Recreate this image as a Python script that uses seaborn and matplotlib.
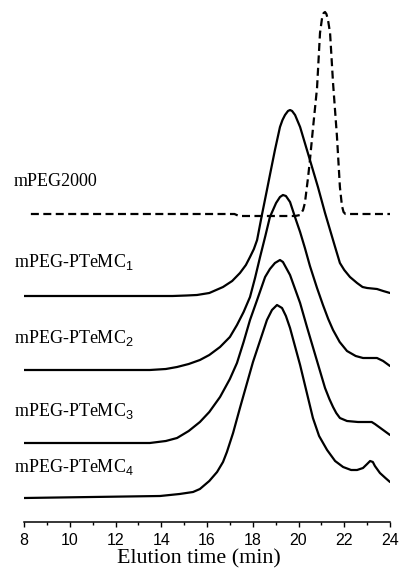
import numpy as np
import pandas as pd
import matplotlib
matplotlib.use("Agg")
import matplotlib.pyplot as plt
import seaborn as sns

# ---------------- data ----------------
series_names = ["mPEG2000", "mPEG-PTeMC1", "mPEG-PTeMC2", "mPEG-PTeMC3", "mPEG-PTeMC4"]
series_labels = ["mPEG2000", "mPEG-PTeMC$_\\mathsf{1}$", "mPEG-PTeMC$_\\mathsf{2}$",
                 "mPEG-PTeMC$_\\mathsf{3}$", "mPEG-PTeMC$_\\mathsf{4}$"]

t0 = [8.3, 17.2, 17.4, 19.85, 20.07, 20.20, 20.28, 20.42, 20.50, 20.63, 20.81, 20.94,
      21.03, 21.10, 21.16, 21.22, 21.29, 21.38, 21.51, 21.68, 21.81, 21.90, 21.97, 22.05, 24.0]
h0 = [0, 0, -2, -2, -1, 4, 11, 37, 54, 85, 126, 181, 196, 201, 202, 200, 194, 181, 131,
      78, 27, 8, 2, 0, 0]

t1 = [8.0, 14.5, 15.1, 15.56, 16.1, 16.70, 17.1, 17.44, 17.7, 17.88, 18.05, 18.19, 18.40,
      18.62, 18.75, 18.97, 19.19, 19.30, 19.41, 19.54, 19.63, 19.72, 19.85, 20.07, 20.50,
      20.85, 21.16, 21.38, 21.60, 21.81, 22.0, 22.25, 22.56, 22.8, 23.0, 23.43, 23.7, 24.0]
h1 = [0, 0, 0.5, 1, 3, 9, 15, 23, 31, 39, 47, 56, 81, 106, 121, 146, 169, 176, 181, 185,
      186, 185, 181, 169, 136, 109, 83, 66, 49, 33, 26, 19, 13, 9, 8, 7, 5, 3]

t2 = [8.0, 13.5, 14.2, 14.69, 15.2, 15.69, 16.1, 16.57, 17.0, 17.31, 17.6, 17.88, 18.1,
      18.32, 18.55, 18.75, 19.02, 19.19, 19.32, 19.45, 19.63, 19.89, 20.07, 20.28, 20.50,
      20.81, 21.07, 21.3, 21.51, 21.8, 22.12, 22.5, 22.82, 23.1, 23.43, 23.7, 24.0]
h2 = [0, 0, 1, 3, 6, 10, 15, 23, 33, 45, 58, 73, 92, 113, 134, 153, 167, 173, 175, 174,
      168, 150, 138, 122, 104, 82, 65, 51, 40, 28, 19, 14, 12, 12, 12, 9, 4]

t3 = [8.0, 13.5, 14.2, 14.69, 15.2, 15.69, 16.1, 16.57, 17.0, 17.31, 17.6, 17.88, 18.19,
      18.54, 18.75, 18.97, 19.19, 19.32, 19.63, 20.07, 20.37, 20.81, 21.16, 21.35, 21.51,
      21.65, 21.81, 22.12, 22.6, 23.0, 23.2, 23.34, 23.7, 24.0]
h3 = [0, 0, 2, 5, 12, 21, 31, 46, 64, 80, 101, 123, 143, 166, 174, 180, 183, 181, 168,
      140, 116, 82, 55, 44, 36, 30, 25, 22, 21, 21, 21, 19, 13, 8]

t4 = [8.0, 13.95, 14.8, 15.39, 15.69, 16.1, 16.44, 16.7, 16.87, 17.14, 17.44, 18.01,
      18.62, 18.84, 19.06, 19.28, 19.45, 19.63, 20.07, 20.63, 20.9, 21.25, 21.6, 21.95,
      22.3, 22.56, 22.82, 23.0, 23.13, 23.25, 23.34, 23.56, 23.8, 24.0]
h4 = [0, 2, 4, 6, 9, 17, 26, 36, 46, 65, 90, 136, 178, 188, 193, 190, 182, 170, 133, 80,
      62, 48, 37, 31, 28, 28, 30, 34, 37, 36, 32, 25, 20, 16]

offsets = [308, 226, 152, 79, 24]          # vertical stacking of the traces
xticks = [8, 10, 12, 14, 16, 18, 20, 22, 24]

times = [t0, t1, t2, t3, t4]
heights = [h0, h1, h2, h3, h4]

frames = []
for name, t, h, off in zip(series_names, times, heights, offsets):
    frames.append(pd.DataFrame({"series": name, "time": t,
                                "signal": np.asarray(h, float) + off}))
df = pd.concat(frames, ignore_index=True)

# ---------------- plotting ----------------
sns.set_theme(style="white")
plt.rcParams["font.family"] = ["Liberation Serif", "DejaVu Serif"]
plt.rcParams["mathtext.fontset"] = "custom"
plt.rcParams["mathtext.rm"] = "Liberation Serif"
plt.rcParams["mathtext.sf"] = "Liberation Sans"

fig = plt.figure(figsize=(4.01, 5.74), dpi=100)
ax = fig.add_axes([24 / 401, 1 - 522 / 574, 366 / 401, 522 / 574])

palette = {n: "black" for n in series_names}
dashes = {n: "" for n in series_names}
dashes["mPEG2000"] = (3.6, 2.0)

sns.lineplot(data=df, x="time", y="signal", hue="series", style="series",
             palette=palette, dashes=dashes, sort=False, estimator=None,
             legend=False, linewidth=1.6, ax=ax)
for ln in ax.lines:
    ln.set_solid_joinstyle("round")
    ln.set_dash_joinstyle("round")

ax.set_xlim(8, 24)
ax.set_ylim(0, 522)
ax.set_xticks(xticks)
ax.set_xticks([x + 1 for x in xticks[:-1]], minor=True)
ax.set_yticks([])
ax.set_xlabel("")
ax.set_ylabel("")
for s in ["left", "right", "top"]:
    ax.spines[s].set_visible(False)
ax.spines["bottom"].set_color("black")
ax.spines["bottom"].set_linewidth(1.1)
ax.tick_params(axis="x", which="major", direction="out", length=3.8, width=1.0,
               color="black", pad=4.0, labelsize=11.5, labelcolor="black",
               labelfontfamily="Liberation Sans", bottom=True)
ax.tick_params(axis="x", which="minor", direction="out", length=2.2, width=1.0,
               color="black", bottom=True)

label_baselines = [336, 255.5, 178.5, 106.3, 50]
for lab, yb in zip(series_labels, label_baselines):
    ax.text(7.56, yb, lab, fontsize=13, ha="left", va="baseline",
            color="black", clip_on=False)

fig.text(199 / 401, 1 - 563 / 574, "Elution time (min)", fontsize=15.8,
         ha="center", va="baseline", color="black")

fig.savefig("out.png", dpi=100, facecolor="white")
